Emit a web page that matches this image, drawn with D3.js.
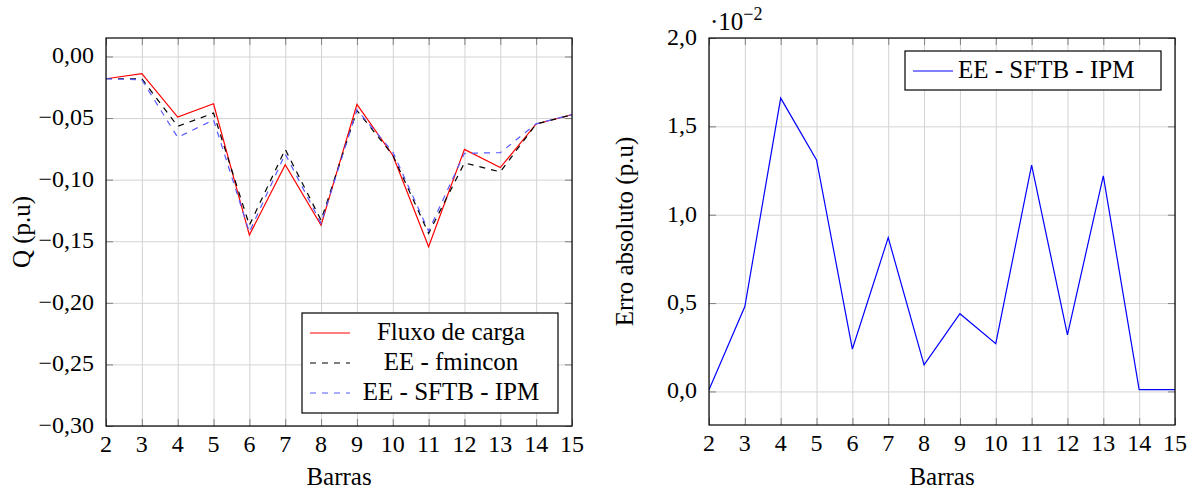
<!DOCTYPE html>
<meta charset="utf-8">
<style>
    body {
        margin: 0;
        background: #fff;
    }
</style>
<div id="container"></div>
<script src="https://cdn.jsdelivr.net/npm/d3@7"></script>
<script>
    // barras (eixo x)
    const barras = [2, 3, 4, 5, 6, 7, 8, 9, 10, 11, 12, 13, 14, 15];

    // Q (p.u) - grafico da esquerda
    const fluxoCarga = [-0.0181, -0.0140, -0.0492, -0.0384, -0.1450, -0.0878, -0.1370, -0.0389, -0.0802, -0.1545, -0.0754, -0.0902, -0.0548, -0.0473];
    const eeFmincon = [-0.0181, -0.0181, -0.0567, -0.0460, -0.1370, -0.0754, -0.1330, -0.0438, -0.0800, -0.1436, -0.0864, -0.0937, -0.0548, -0.0473];
    const eeSftbIpm = [-0.0181, -0.0189, -0.0657, -0.0515, -0.1426, -0.0791, -0.1355, -0.0433, -0.0775, -0.1417, -0.0786, -0.0781, -0.0547, -0.0472];

    // erro absoluto (p.u) - grafico da direita
    const erroAbs = [0.0001, 0.0048, 0.0166, 0.0131, 0.0024, 0.0087, 0.0015, 0.0044, 0.0027, 0.0128, 0.0032, 0.0122, 0.0001, 0.0001];

    const leftTicks = [-0.30, -0.25, -0.20, -0.15, -0.10, -0.05, 0.00];
    const rightTicks = [0.000, 0.005, 0.010, 0.015, 0.020];

    const width = 1196, height = 491;
    const FONT = "'Liberation Serif', 'DejaVu Serif', serif";
    const ptBR = d3.formatLocale({decimal: ",", thousands: ".", grouping: [3], currency: ["R$", ""], minus: "\u2212"});

    const svg = d3.select("#container").append("svg")
        .attr("width", width)
        .attr("height", height)
        .attr("font-family", FONT);

    function panel(box, yDomain, yTicks, yFmt, ylabel, ylabelX) {
        const x = d3.scaleLinear().domain([2, 15]).range([box.x0, box.x1]);
        const y = d3.scaleLinear().domain(yDomain).range([box.y1, box.y0]);
        const g = svg.append("g");
        const w = box.x1 - box.x0, h = box.y1 - box.y0;

        // grid
        g.append("g").attr("transform", `translate(0,${box.y1})`)
            .call(d3.axisBottom(x).tickValues(barras).tickSize(-h).tickFormat(""))
            .call(a => a.select(".domain").remove())
            .call(a => a.selectAll("line").attr("stroke", "#d3d3d3"));
        g.append("g").attr("transform", `translate(${box.x0},0)`)
            .call(d3.axisLeft(y).tickValues(yTicks).tickSize(-w).tickFormat(""))
            .call(a => a.select(".domain").remove())
            .call(a => a.selectAll("line").attr("stroke", "#d3d3d3"));

        // tick marks, inward on every side
        const tk = 7;
        const sides = [
            [d3.axisBottom(x).tickValues(barras), `translate(0,${box.y1})`],
            [d3.axisTop(x).tickValues(barras), `translate(0,${box.y0})`],
            [d3.axisLeft(y).tickValues(yTicks), `translate(${box.x0},0)`],
            [d3.axisRight(y).tickValues(yTicks), `translate(${box.x1},0)`]
        ];
        sides.forEach(([ax, tr]) => {
            g.append("g").attr("transform", tr)
                .call(ax.tickSize(-tk).tickFormat(""))
                .call(a => a.select(".domain").remove())
                .call(a => a.selectAll("line").attr("stroke", "#808080"));
        });

        // labels
        g.append("g").selectAll("text").data(barras).join("text")
            .attr("x", d => x(d))
            .attr("y", box.y1 + 26)
            .attr("text-anchor", "middle")
            .attr("font-size", 24)
            .text(d => d);
        g.append("g").selectAll("text").data(yTicks).join("text")
            .attr("x", box.x0 - 12)
            .attr("y", d => y(d) + 7)
            .attr("text-anchor", "end")
            .attr("font-size", 24)
            .text(yFmt);

        g.append("text")
            .attr("x", (box.x0 + box.x1) / 2)
            .attr("y", 485)
            .attr("text-anchor", "middle")
            .attr("font-size", 25)
            .text("Barras");
        g.append("text")
            .attr("transform", `translate(${ylabelX},${(box.y0 + box.y1) / 2}) rotate(-90)`)
            .attr("text-anchor", "middle")
            .attr("font-size", 25)
            .text(ylabel);

        const clip = "clip" + Math.round(box.x0);
        svg.append("clipPath").attr("id", clip)
            .append("rect").attr("x", box.x0).attr("y", box.y0).attr("width", w).attr("height", h);

        return {x, y, g, clip};
    }

    function drawLine(p, values, color, dash) {
        const line = d3.line().x((d, i) => p.x(barras[i])).y(d => p.y(d));
        p.g.append("path")
            .datum(values)
            .attr("clip-path", `url(#${p.clip})`)
            .attr("d", line)
            .attr("fill", "none")
            .attr("stroke", color)
            .attr("stroke-width", 1.2)
            .attr("stroke-dasharray", dash || null);
    }

    function frame(p, box) {
        p.g.append("rect")
            .attr("x", box.x0).attr("y", box.y0)
            .attr("width", box.x1 - box.x0).attr("height", box.y1 - box.y0)
            .attr("fill", "none").attr("stroke", "#000").attr("stroke-width", 1.2);
    }

    function legend(p, box, items, textX, anchor) {
        const lg = p.g.append("g");
        lg.append("rect")
            .attr("x", box.x).attr("y", box.y).attr("width", box.w).attr("height", box.h)
            .attr("fill", "#fff").attr("stroke", "#000").attr("stroke-width", 1.2);
        items.forEach((it, i) => {
            const cy = box.y + 20 + i * 30;
            lg.append("line")
                .attr("x1", box.x + 8).attr("x2", box.x + 48)
                .attr("y1", cy).attr("y2", cy)
                .attr("stroke", it.color).attr("stroke-width", 1.2)
                .attr("stroke-dasharray", it.dash || null);
            lg.append("text")
                .attr("x", textX).attr("y", cy + 7)
                .attr("text-anchor", anchor)
                .attr("font-size", 25)
                .text(it.name);
        });
    }

    // painel esquerdo
    const boxL = {x0: 106, x1: 572, y0: 38, y1: 426};
    const pL = panel(boxL, [-0.30, 0.015], leftTicks, ptBR.format(".2f"), "Q (p.u)", 30);
    drawLine(pL, fluxoCarga, "#ff0000");
    drawLine(pL, eeFmincon, "#000000", "6,6");
    drawLine(pL, eeSftbIpm, "#5a5aff", "6,6");
    frame(pL, boxL);
    legend(pL, {x: 302, y: 313, w: 256, h: 100}, [
        {name: "Fluxo de carga", color: "#ff0000"},
        {name: "EE - fmincon", color: "#000000", dash: "6,6"},
        {name: "EE - SFTB - IPM", color: "#5a5aff", dash: "6,6"}
    ], 451, "middle");

    // painel direito
    const boxR = {x0: 709, x1: 1175, y0: 38, y1: 425};
    const pR = panel(boxR, [-0.0019, 0.020], rightTicks, d => ptBR.format(".1f")(d * 100), "Erro absoluto (p.u)", 633);
    drawLine(pR, erroAbs, "#0000ff");
    frame(pR, boxR);
    legend(pR, {x: 905, y: 51, w: 256, h: 39}, [
        {name: "EE - SFTB - IPM", color: "#0000ff"}
    ], 958, "start");

    // multiplicador do eixo y
    const mult = svg.append("text")
        .attr("x", 710).attr("y", 30)
        .attr("font-size", 25);
    mult.append("tspan").text("\u00b710");
    mult.append("tspan").attr("dy", -10).attr("font-size", 18).text("\u22122");
</script>
